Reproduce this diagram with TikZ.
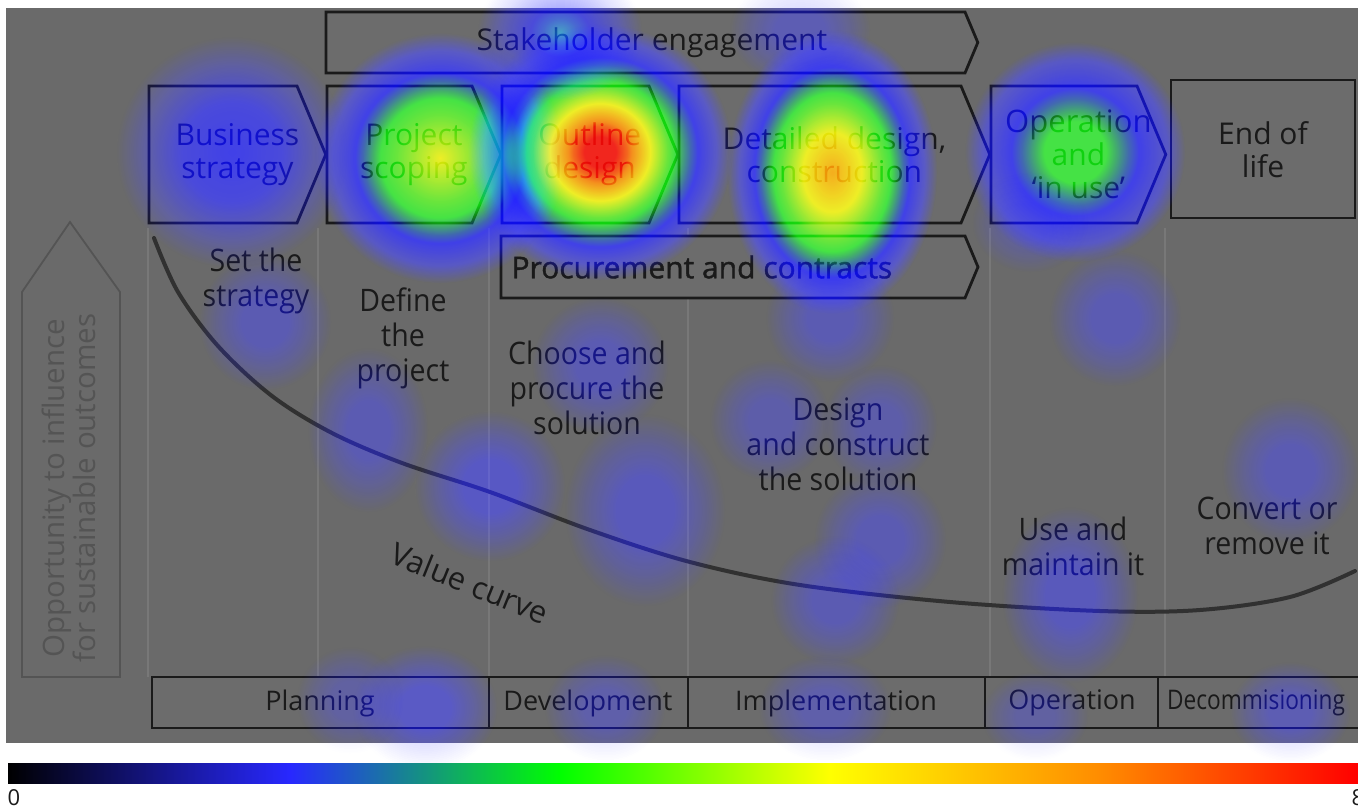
\documentclass[tikz,border=0pt]{standalone}
\usepackage{fontspec}
\setmainfont{Open Sans}
\newfontfamily\condfont[FakeStretch=0.92]{Open Sans}
\newfontfamily\narrowfont[FakeStretch=0.84]{Open Sans}
\newfontfamily\semifont[FakeBold=1.3]{Open Sans}
\definecolor{bggray}{RGB}{106,106,106}
\definecolor{panel}{RGB}{108,108,108}
\definecolor{ink}{RGB}{26,26,26}
\definecolor{pale}{RGB}{84,84,84}
\definecolor{colgray}{RGB}{120,120,120}
\definecolor{heatblue}{RGB}{40,40,255}
\definecolor{heatorange}{RGB}{255,140,0}
% heat colours, set for hard light (0.5 gray leaves the picture as it is)
\definecolor{hlgray}{rgb}{0.5,0.5,0.5}
\definecolor{hlfaint}{rgb}{0.42,0.42,0.80}
\definecolor{hlblue}{rgb}{0.30,0.30,0.92}
\definecolor{hlteal}{rgb}{0.33,0.68,0.80}
\definecolor{hlgreen}{rgb}{0.32,0.90,0.32}
\definecolor{hlyellow}{rgb}{0.94,0.94,0.18}
\definecolor{hlorange}{rgb}{0.96,0.62,0.14}
\definecolor{hlamber}{rgb}{0.96,0.72,0.14}
\definecolor{hlred}{rgb}{0.95,0.18,0.14}
\pgfdeclareradialshading{heatred}{\pgfpointorigin}{color(0bp)=(hlred); color(3bp)=(hlred); color(6bp)=(hlorange); color(9.5bp)=(hlyellow); color(14bp)=(hlgreen); color(18.5bp)=(hlblue); color(22bp)=(hlfaint); color(25bp)=(hlgray); color(50bp)=(hlgray)}
\pgfdeclareradialshading{heatamber}{\pgfpointorigin}{color(0bp)=(hlamber); color(7bp)=(hlyellow); color(14bp)=(hlgreen); color(18.5bp)=(hlblue); color(22bp)=(hlfaint); color(25bp)=(hlgray); color(50bp)=(hlgray)}
\pgfdeclareradialshading{heatyellow}{\pgfpointorigin}{color(0bp)=(hlyellow); color(6bp)=(hlyellow!50!hlgreen); color(12bp)=(hlgreen); color(17bp)=(hlblue); color(21.5bp)=(hlfaint); color(25bp)=(hlgray); color(50bp)=(hlgray)}
\pgfdeclareradialshading{heatgreen}{\pgfpointorigin}{color(0bp)=(hlgreen); color(7bp)=(hlgreen); color(14.5bp)=(hlblue); color(21bp)=(hlfaint); color(25bp)=(hlgray); color(50bp)=(hlgray)}
\pgfdeclareradialshading{heatcyan}{\pgfpointorigin}{color(0bp)=(hlteal); color(9bp)=(hlblue!60!hlfaint); color(18bp)=(hlfaint!70!hlgray); color(25bp)=(hlgray); color(50bp)=(hlgray)}
\pgfdeclareradialshading{heatdeep}{\pgfpointorigin}{color(0bp)=(hlblue); color(11bp)=(hlblue!60!hlfaint); color(19bp)=(hlfaint!60!hlgray); color(25bp)=(hlgray); color(50bp)=(hlgray)}
\pgfdeclareradialshading{heatplain}{\pgfpointorigin}{color(0bp)=(hlfaint); color(9bp)=(hlfaint); color(17bp)=(hlfaint!55!hlgray); color(25bp)=(hlgray); color(50bp)=(hlgray)}
\newcommand{\stagebox}[6]{% name, left, corner, top, bottom, text
  \draw[box] (#2,#4) -- (#3,#4) -- ({#3+0.21*(#5-#4)},{(#4+#5)/2}) -- (#3,#5) -- (#2,#5) -- cycle;
  \node[stage] (#1) at ({(#2+#3)/2+0.105*(#5-#4)},{(#4+#5)/2}) {#6};}
\tikzset{
    box/.style={draw=ink, line width=2.8pt, fill=panel, line join=miter},
    stage/.style={text=ink, align=center, font=\fontsize{30}{33}\selectfont},
    note/.style={text=ink, align=center, font=\condfont\fontsize{31}{35}\selectfont},
    phase/.style={text=ink, font=\fontsize{27}{30}\selectfont},
    colline/.style={draw=colgray, line width=1.5pt},
    tabline/.style={draw=ink, line width=1.8pt},
    valueline/.style={draw=ink!90!white, line width=4pt, line cap=round}
}
\begin{document}
\begin{tikzpicture}[x=1pt, y=-1pt]
\useasboundingbox (0,0) rectangle (1358,809);
\fill[white] (0,0) rectangle (1358,809);
\fill[bggray] (6,8) rectangle (1358,743);

% columns
\foreach \cx in {148,318,489,688,990,1165}
    \draw[colline] (\cx,228) -- (\cx,677);

% opportunity arrow
\draw[draw=pale, line width=1.8pt] (22,677) -- (22,292) -- (70,222) -- (120,292) -- (120,677) -- cycle;
\node[text=pale, rotate=90, align=center, font=\fontsize{29.5}{31}\selectfont] (opp) at (69,488)
    {Opportunity to influence\\for sustainable outcomes};

% stages
\stagebox{stake}{326}{965}{12}{73}{Stakeholder engagement}
\stagebox{biz}{149}{297}{86}{223}{Business\\strategy}
\stagebox{scope}{327}{472}{86}{223}{Project\\scoping}
\stagebox{outline}{502}{649}{86}{223}{Outline\\design}
\stagebox{detail}{679}{961}{86}{223}{Detailed design,\\construction}
\stagebox{oper}{991}{1137}{86}{223}{\fontsize{31}{31}\selectfont Operation\\and\\`in use'}
\draw[box] (1171,80) rectangle (1355,218);
\node[stage] (eol) at (1263,150) {End of\\life};
\draw[box] (501,236) -- (965,236) -- (978,267) -- (965,298) -- (501,298) -- cycle;
\node[stage, anchor=west, font=\semifont\fontsize{30}{33}\selectfont] (proc) at (508,267) {Procurement and contracts};

% activities
\node[note] (setstr) at (256,281) {Set the\\strategy};
\node[note] (define) at (403,338) {Define\\the\\project};
\node[note] (choose) at (587,388) {Choose and\\procure the\\solution};
\node[note] (construct) at (838,444) {Design\\and construct\\the solution};
\node[note] (usemaint) at (1073,546) {Use and\\maintain it};
\node[note] (convert) at (1267,526) {Convert or\\remove it};

% value curve
\draw[valueline] plot[smooth, tension=0.55] coordinates {(154,238) (178,292) (218,346) (272,396) (332,433) (402,463) (490,492) (590,530) (690,562) (800,585) (950,602) (1100,611) (1200,610) (1290,597) (1355,571)};
\node[text=ink, rotate=-22, font=\fontsize{31}{34}\selectfont] (vcurve) at (470,583) {Value curve};

% phases
\draw[tabline, fill=panel] (152,677) rectangle (1360,728);
\foreach \tx in {489,688,985,1158}
    \draw[tabline] (\tx,677) -- (\tx,728);
\node[phase] (plan) at (320,703) {Planning};
\node[phase] (dev) at (588,703) {Development};
\node[phase] (impl) at (836,703) {Implementation};
\node[phase] (op) at (1072,703) {Operation};
\node[phase, font=\narrowfont\fontsize{27}{30}\selectfont] (decom) at (1256,703) {Decommisioning};

% heat map
\begin{scope}[blend mode=hard light]
\foreach \sh/\hx/\hy/\rx/\ry/\op in {
    heatdeep/232/152/115/115/1, heatyellow/440/158/125/125/1, heatred/600/152/132/128/1,
    heatamber/832/172/105/142/1, heatgreen/1075/152/110/110/1,
    heatcyan/560/32/82/68/1, heatplain/800/30/70/55/.8, heatplain/1030/222/58/50/.6,
    heatplain/265/322/66/68/.8, heatplain/368/430/60/82/.8, heatplain/490/486/75/75/1,
    heatplain/600/365/68/68/.8, heatplain/645/510/80/96/.9, heatplain/830/318/64/64/.8,
    heatplain/1115/318/66/68/.8, heatplain/770/420/60/60/.7, heatplain/880/425/57/60/.7,
    heatplain/880/540/66/68/.8, heatplain/835/600/64/64/.8, heatplain/1070/595/68/88/.9,
    heatplain/1290/470/68/72/.8, heatplain/1290/712/60/50/.8, heatplain/425/708/72/62/1,
    heatplain/350/700/53/53/.6, heatplain/605/708/60/53/.7, heatplain/825/708/66/53/.7,
    heatplain/1035/716/53/44/.6}
    \shade[shading=\sh, opacity=\op] (\hx,\hy) ellipse [x radius=\rx, y radius=\ry];
\end{scope}

% colour scale
\foreach \xa/\xb/\ca/\cb in {8/290/black/heatblue, 290/560/heatblue/green, 560/830/green/yellow, 830/1100/yellow/heatorange, 1100/1358/heatorange/red}
    \shade[left color=\ca, right color=\cb] (\xa,763) rectangle (\xb,783);
\node[text=ink, inner sep=0pt, font=\fontsize{22}{24}\selectfont] (smin) at (14,798) {0};
\node[text=ink, inner sep=0pt, font=\fontsize{22}{24}\selectfont] (smax) at (1358,798) {8};
\end{tikzpicture}
\end{document}
